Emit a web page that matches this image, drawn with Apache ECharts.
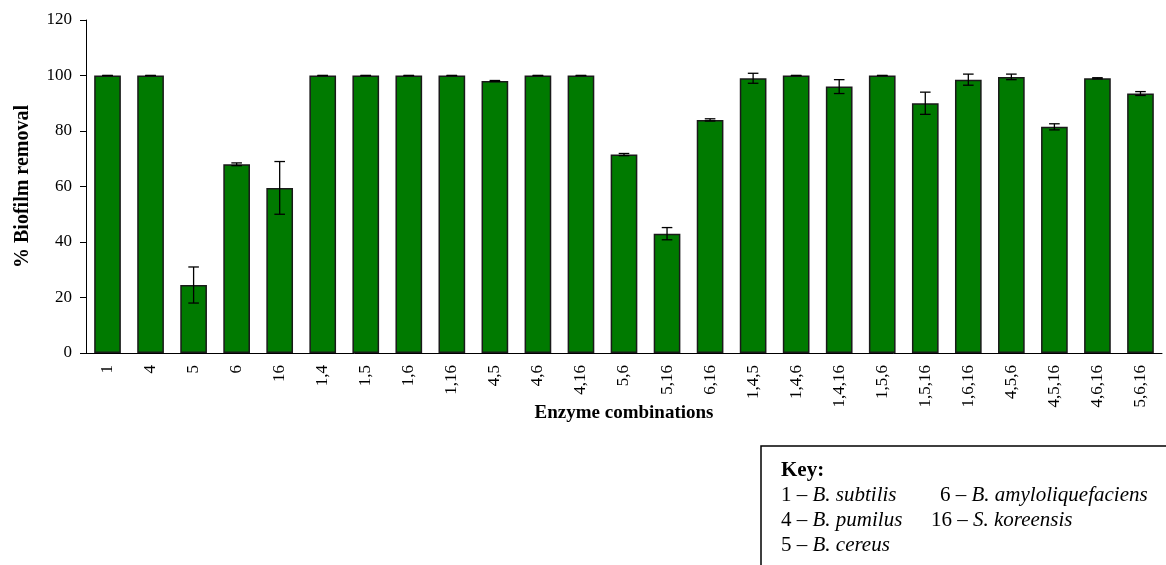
<!DOCTYPE html>
<html>
<head>
<meta charset="utf-8">
<script src="https://cdn.jsdelivr.net/npm/echarts@6/dist/echarts.min.js"></script>
<style>
  html, body { margin: 0; padding: 0; background: #fff; }
  #chart { width: 1166px; height: 565px; }
</style>
</head>
<body>
<div id="chart"></div>
<script>
// Enzyme combinations tested (isolate numbers)
const categories = ['1', '4', '5', '6', '16', '1,4', '1,5', '1,6', '1,16', '4,5', '4,6', '4,16',
  '5,6', '5,16', '6,16', '1,4,5', '1,4,6', '1,4,16', '1,5,6', '1,5,16', '1,6,16', '4,5,6',
  '4,5,16', '4,6,16', '5,6,16'];

// Mean % biofilm removal for each combination
const removal = [100, 100, 24.5, 68, 59.5, 100, 100, 100, 100, 98, 100, 100,
  71.5, 43, 84, 99, 100, 96, 100, 90, 98.5, 99.5, 81.5, 99, 93.5];

// Standard error (± half-length of each error bar)
const stdErr = [0, 0, 6.5, 0.5, 9.5, 0, 0, 0, 0, 0.2, 0, 0,
  0.4, 2.2, 0.4, 1.8, 0, 2.5, 0, 4, 2, 1, 1.1, 0.2, 0.7];

const yTicks = { min: 0, max: 120, interval: 20 };

// Key entries: [number, species]
const keyLeft = [['1', 'B. subtilis'], ['4', 'B. pumilus'], ['5', 'B. cereus']];
const keyRight = [['6', 'B. amyloliquefaciens'], ['16', 'S. koreensis']];

const FONT = '"Liberation Serif", "Times New Roman", serif';

const errData = categories.map((c, i) => [i, removal[i] - stdErr[i], removal[i] + stdErr[i]]);

const chart = echarts.init(document.getElementById('chart'), null, { renderer: 'canvas' });

const KEY_SIZE = 21;
const richItalic = { i: { fontStyle: 'italic', fontSize: KEY_SIZE, fontFamily: FONT, color: '#000' } };

function keyText(x, y, num, name) {
  return {
    type: 'text', x: x, y: y,
    style: {
      text: num + ' \u2013 {i|' + name + '}',
      fontFamily: FONT, fontSize: KEY_SIZE, fill: '#000',
      verticalAlign: 'middle', align: 'left',
      rich: richItalic
    }
  };
}

const keyLeftX = 781, keyTitleY = 471, keyRowY = [495, 520, 545];
const keyRightX = [940, 931];
const keyGraphics = [
  { type: 'rect', shape: { x: 761, y: 446, width: 420, height: 140 },
    style: { fill: '#fff', stroke: '#000', lineWidth: 1.5 } },
  { type: 'text', x: keyLeftX, y: keyTitleY,
    style: { text: 'Key:', fontFamily: FONT, fontSize: KEY_SIZE, fontWeight: 'bold',
      fill: '#000', verticalAlign: 'middle' } }
];
keyLeft.forEach((k, r) => keyGraphics.push(keyText(keyLeftX, keyRowY[r], k[0], k[1])));
keyRight.forEach((k, r) => keyGraphics.push(keyText(keyRightX[r], keyRowY[r], k[0], k[1])));

chart.setOption({
  animation: false,
  backgroundColor: '#fff',
  grid: { left: 86, right: 4, top: 20, bottom: 212, containLabel: false },
  xAxis: {
    type: 'category',
    data: categories,
    name: 'Enzyme combinations',
    nameLocation: 'middle',
    nameGap: 51,
    nameMoveOverlap: false,
    nameTextStyle: { fontFamily: FONT, fontSize: 19, fontWeight: 'bold', color: '#000' },
    axisLine: { lineStyle: { color: '#000', width: 1 } },
    axisTick: { alignWithLabel: false, length: 5, lineStyle: { color: '#000' } },
    axisLabel: { rotate: 90, interval: 0, margin: 12, fontFamily: FONT, fontSize: 17, color: '#000' }
  },
  yAxis: {
    type: 'value',
    min: yTicks.min, max: yTicks.max, interval: yTicks.interval,
    name: '% Biofilm removal',
    nameLocation: 'middle',
    nameGap: 53,
    nameMoveOverlap: false,
    nameTextStyle: { fontFamily: FONT, fontSize: 20, fontWeight: 'bold', color: '#000' },
    splitLine: { show: false },
    axisLine: { show: true, lineStyle: { color: '#000', width: 1 } },
    axisTick: { show: true, length: 6, lineStyle: { color: '#000' } },
    axisLabel: { margin: 14, fontFamily: FONT, fontSize: 17, color: '#000' }
  },
  series: [
    {
      type: 'bar',
      data: removal,
      barCategoryGap: '38%',
      itemStyle: { color: '#007a00', borderColor: '#1a1a1a', borderWidth: 1.5 }
    },
    {
      type: 'custom',
      data: errData,
      z: 10,
      renderItem: function (params, api) {
        const i = api.value(0);
        const lo = api.coord([i, api.value(1)]);
        const hi = api.coord([i, api.value(2)]);
        const cap = 5.3;
        const s = { stroke: '#000', lineWidth: 1.3 };
        return {
          type: 'group',
          children: [
            { type: 'line', shape: { x1: hi[0], y1: hi[1], x2: lo[0], y2: lo[1] }, style: s },
            { type: 'line', shape: { x1: hi[0] - cap, y1: hi[1], x2: hi[0] + cap, y2: hi[1] }, style: s },
            { type: 'line', shape: { x1: lo[0] - cap, y1: lo[1], x2: lo[0] + cap, y2: lo[1] }, style: s }
          ]
        };
      }
    }
  ],
  graphic: keyGraphics
});
</script>
</body>
</html>
